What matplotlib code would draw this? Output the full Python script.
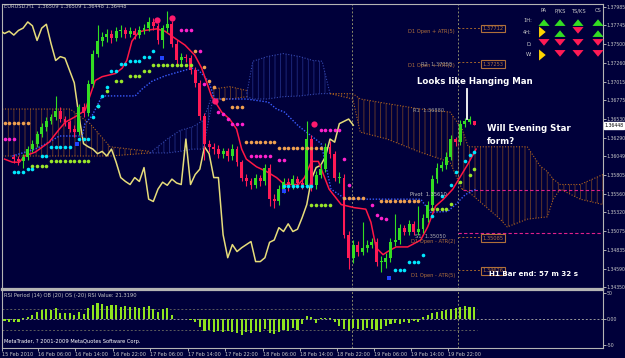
import matplotlib
matplotlib.use("Agg")
import matplotlib.pyplot as plt

W, H = 625, 358
BG = "#00003a"
FG = "#c8c8c8"
NARROW = ["Liberation Sans Narrow", "DejaVu Sans"]

# ---- candles (H1 bars 2..101) ----
bar_idx = list(range(2, 102))
opens = [1.3604, 1.3601, 1.3598, 1.3604, 1.3614, 1.3621, 1.3634, 1.3643, 1.3651, 1.3656,
         1.3664, 1.3653, 1.3649, 1.3640, 1.3636, 1.3669, 1.3661, 1.3699, 1.3738, 1.3754,
         1.3760, 1.3763, 1.3758, 1.3767, 1.3768, 1.3764, 1.3767, 1.3762, 1.3768, 1.3771,
         1.3779, 1.3774, 1.3755, 1.3771, 1.3776, 1.3751, 1.3729, 1.3734, 1.3732, 1.3716,
         1.3700, 1.3657, 1.3621, 1.3617, 1.3614, 1.3608, 1.3611, 1.3605, 1.3614, 1.3597,
         1.3577, 1.3572, 1.3568, 1.3577, 1.3572, 1.3590, 1.3549, 1.3546, 1.3562, 1.3571,
         1.3567, 1.3575, 1.3570, 1.3568, 1.3627, 1.3568, 1.3581, 1.3588, 1.3617, 1.3608,
         1.3577, 1.3577, 1.3503, 1.3473, 1.3490, 1.3481, 1.3486, 1.3490, 1.3494, 1.3468,
         1.3468, 1.3473, 1.3493, 1.3496, 1.3512, 1.3507, 1.3517, 1.3507, 1.3510, 1.3525,
         1.3542, 1.3575, 1.3590, 1.3593, 1.3604, 1.3627, 1.3623, 1.3647, 1.3649, 1.3651]
highs = [1.3608, 1.3605, 1.3608, 1.3618, 1.3626, 1.3638, 1.3648, 1.3655, 1.3660, 1.3683,
         1.3668, 1.3657, 1.3652, 1.3645, 1.3673, 1.3674, 1.3704, 1.3743, 1.3775, 1.3766,
         1.3770, 1.3768, 1.3773, 1.3775, 1.3772, 1.3772, 1.3771, 1.3774, 1.3776, 1.3786,
         1.3784, 1.3778, 1.3775, 1.3793, 1.3780, 1.3755, 1.3739, 1.3738, 1.3736, 1.3720,
         1.3704, 1.3661, 1.3626, 1.3622, 1.3619, 1.3616, 1.3616, 1.3620, 1.3618, 1.3600,
         1.3582, 1.3577, 1.3582, 1.3581, 1.3595, 1.3594, 1.3556, 1.3568, 1.3577, 1.3576,
         1.3580, 1.3579, 1.3575, 1.3650, 1.3632, 1.3586, 1.3594, 1.3622, 1.3624, 1.3612,
         1.3584, 1.3582, 1.3508, 1.3496, 1.3495, 1.3520, 1.3496, 1.3499, 1.3498, 1.3475,
         1.3479, 1.3498, 1.3530, 1.3517, 1.3516, 1.3522, 1.3521, 1.3540, 1.3530, 1.3547,
         1.3580, 1.3596, 1.3598, 1.3610, 1.3632, 1.3630, 1.3652, 1.3654, 1.3657, 1.3651]
lows = [1.3596, 1.3593, 1.3590, 1.3600, 1.3610, 1.3617, 1.3630, 1.3638, 1.3646, 1.3652,
        1.3649, 1.3644, 1.3636, 1.3630, 1.3632, 1.3656, 1.3657, 1.3695, 1.3733, 1.3748,
        1.3753, 1.3752, 1.3754, 1.3760, 1.3758, 1.3760, 1.3757, 1.3758, 1.3763, 1.3767,
        1.3769, 1.3750, 1.3745, 1.3766, 1.3746, 1.3724, 1.3725, 1.3727, 1.3712, 1.3695,
        1.3652, 1.3600, 1.3610, 1.3608, 1.3602, 1.3603, 1.3599, 1.3600, 1.3592, 1.3572,
        1.3566, 1.3562, 1.3563, 1.3566, 1.3568, 1.3540, 1.3538, 1.3541, 1.3557, 1.3560,
        1.3562, 1.3563, 1.3562, 1.3563, 1.3560, 1.3562, 1.3576, 1.3584, 1.3602, 1.3572,
        1.3570, 1.3498, 1.3458, 1.3466, 1.3475, 1.3477, 1.3480, 1.3485, 1.3462, 1.3455,
        1.3460, 1.3468, 1.3488, 1.3491, 1.3502, 1.3502, 1.3502, 1.3503, 1.3505, 1.3520,
        1.3538, 1.3570, 1.3585, 1.3588, 1.3600, 1.3618, 1.3619, 1.3643, 1.3646, 1.3645]
closes = [1.3601, 1.3598, 1.3604, 1.3614, 1.3621, 1.3634, 1.3643, 1.3651, 1.3656, 1.3664,
          1.3653, 1.3649, 1.3640, 1.3636, 1.3669, 1.3661, 1.3699, 1.3738, 1.3754, 1.3760,
          1.3763, 1.3758, 1.3767, 1.3768, 1.3764, 1.3767, 1.3762, 1.3768, 1.3771, 1.3779,
          1.3774, 1.3755, 1.3771, 1.3776, 1.3751, 1.3729, 1.3734, 1.3732, 1.3716, 1.3700,
          1.3657, 1.3621, 1.3617, 1.3614, 1.3608, 1.3611, 1.3605, 1.3614, 1.3597, 1.3577,
          1.3572, 1.3568, 1.3577, 1.3572, 1.3590, 1.3549, 1.3546, 1.3562, 1.3571, 1.3567,
          1.3575, 1.3570, 1.3568, 1.3627, 1.3568, 1.3581, 1.3588, 1.3617, 1.3608, 1.3577,
          1.3577, 1.3503, 1.3473, 1.3490, 1.3481, 1.3486, 1.3490, 1.3494, 1.3468, 1.3468,
          1.3473, 1.3493, 1.3496, 1.3512, 1.3507, 1.3517, 1.3507, 1.3510, 1.3525, 1.3542,
          1.3575, 1.3590, 1.3593, 1.3604, 1.3627, 1.3623, 1.3647, 1.3650, 1.3653, 1.3645]
chikou_shift = 26

# ---- ichimoku lines ----
tenkan_x = [0, 1.7, 3.2, 4.3, 6.6, 9.6, 11.8, 13.1, 15.2, 17.3, 19.5, 21.0, 23.8, 25.3, 26.3,
            27.4, 28.9, 30.2, 32.8, 34.5, 36.6, 38.8, 40.9, 42.4, 44.5, 46.7, 48.4, 49.9, 51.0,
            52.0, 54.2, 56.3, 58.5, 60.2, 63.2, 64.5, 66.0, 67.5, 69.8, 72.4, 75.2, 77.7, 78.8,
            79.9, 81.4, 82.4, 84.2, 86.7, 88.9, 89.5, 91.0, 92.7, 94.4, 96.4, 98.1, 99.6, 101.4]
tenkan_y = [1.3601, 1.3597, 1.3597, 1.3605, 1.3610, 1.3623, 1.3640, 1.3649, 1.3656, 1.3664,
            1.3703, 1.3708, 1.3712, 1.3719, 1.3729, 1.3754, 1.3766, 1.3768, 1.3770, 1.3767,
            1.3758, 1.3749, 1.3736, 1.3719, 1.3683, 1.3662, 1.3653, 1.3640, 1.3614, 1.3601,
            1.3591, 1.3585, 1.3577, 1.3568, 1.3568, 1.3577, 1.3598, 1.3598, 1.3562, 1.3542,
            1.3538, 1.3536, 1.3519, 1.3486, 1.3477, 1.3481, 1.3487, 1.3487, 1.3494, 1.3496,
            1.3513, 1.3540, 1.3549, 1.3562, 1.3579, 1.3594, 1.3614]
kijun_x = [1.7, 6.6, 9.6, 11.8, 16.7, 17.3, 18.8, 21.0, 28.1, 29.6, 31.7, 34.5, 40.3, 41.8,
           43.9, 45.2, 52.0, 56.7, 58.5, 60.2, 63.2, 66.0, 68.1, 70.2, 73.4, 80.9, 89.5, 91.6,
           95.3, 97.0, 99.1, 101.4]
kijun_y = [1.3605, 1.3614, 1.3623, 1.3631, 1.3631, 1.3647, 1.3657, 1.3683, 1.3683, 1.3692,
           1.3702, 1.3709, 1.3719, 1.3716, 1.3702, 1.3679, 1.3679, 1.3675, 1.3666, 1.3662,
           1.3644, 1.3631, 1.3621, 1.3562, 1.3549, 1.3549, 1.3549, 1.3532, 1.3533, 1.3542,
           1.3555, 1.3562]

# ---- cloud pieces: bars, upper edge, lower edge ----
cloud1_x = [-0.5, 14.1, 18.4, 22.7, 31.3]
cloud1_top = [1.3666, 1.3666, 1.3647, 1.3617, 1.3611]
cloud1_bot = [1.3605, 1.3605, 1.3605, 1.3605, 1.3609]
cloud2_x = [31.3, 35.0, 37.7, 40.5, 42.7, 44.8]
cloud2_top = [1.3609, 1.3627, 1.3638, 1.3643, 1.3651, 1.3686]
cloud2_bot = [1.3609, 1.3609, 1.3611, 1.3614, 1.3614, 1.3679]
cloud3_x = [44.8, 48.5, 52.1]
cloud3_top = [1.3692, 1.3695, 1.3690]
cloud3_bot = [1.3679, 1.3679, 1.3682]
cloud4_x = [52.1, 53.4, 56.5, 59.9, 63.5, 66.3, 68.3, 70.0]
cloud4_top = [1.3686, 1.3728, 1.3734, 1.3738, 1.3734, 1.3729, 1.3728, 1.3686]
cloud4_bot = [1.3682, 1.3679, 1.3679, 1.3682, 1.3683, 1.3685, 1.3686, 1.3686]
cloud5_x = [70.0, 74.9, 76.5, 82.3, 89.4, 95.8, 98.4]
cloud5_top = [1.3686, 1.3686, 1.3679, 1.3673, 1.3666, 1.3662, 1.3640]
cloud5_bot = [1.3686, 1.3679, 1.3636, 1.3627, 1.3610, 1.3597, 1.3562]
cloud6_x = [98.4, 99.7, 106.6, 108.1, 112.4, 115.2, 116.7, 118.0, 119.5, 123.8, 128.7]
cloud6_top = [1.3640, 1.3617, 1.3617, 1.3617, 1.3617, 1.3592, 1.3585, 1.3575, 1.3568, 1.3568, 1.3581]
cloud6_bot = [1.3562, 1.3559, 1.3523, 1.3513, 1.3523, 1.3525, 1.3526, 1.3549, 1.3562, 1.3549, 1.3542]

# ---- dot indicators ----
cyan_x = [2, 3, 4, 5, 6, 8, 9, 10, 11, 12, 13, 14, 16, 17, 18, 19, 20, 21, 22, 23, 24, 25, 26,
          27, 28, 29, 30, 31, 32, 60, 61, 62, 63, 64, 65, 66, 84, 85, 86, 87, 88, 89, 90, 92,
          94, 96, 97, 99, 100, 101]
cyan_y = [1.3584, 1.3584, 1.3584, 1.3588, 1.3588, 1.3605, 1.3605, 1.3617, 1.3617, 1.3617,
          1.3617, 1.3617, 1.3627, 1.3627, 1.3627, 1.3656, 1.3670, 1.3683, 1.3695, 1.3715,
          1.3715, 1.3724, 1.3724, 1.3728, 1.3728, 1.3728, 1.3734, 1.3734, 1.3741, 1.3566,
          1.3566, 1.3566, 1.3566, 1.3566, 1.3566, 1.3566, 1.3457, 1.3457, 1.3457, 1.3468,
          1.3468, 1.3468, 1.3477, 1.3527, 1.3553, 1.3568, 1.3584, 1.3598, 1.3606, 1.3610]
lime_x = [6, 7, 8, 9, 10, 11, 12, 13, 14, 15, 16, 17, 18, 20, 22, 24, 25, 27, 28, 29, 30, 31,
          32, 33, 34, 35, 36, 37, 38, 39, 40, 66, 67, 68, 69, 70, 92, 93, 94, 95, 96, 98, 100, 101]
lime_y = [1.3592, 1.3592, 1.3592, 1.3592, 1.3598, 1.3598, 1.3598, 1.3598, 1.3598, 1.3598,
          1.3598, 1.3598, 1.3598, 1.3670, 1.3690, 1.3702, 1.3702, 1.3709, 1.3709, 1.3709,
          1.3715, 1.3715, 1.3723, 1.3723, 1.3723, 1.3723, 1.3723, 1.3723, 1.3723, 1.3723,
          1.3723, 1.3541, 1.3541, 1.3541, 1.3541, 1.3541, 1.3536, 1.3536, 1.3536, 1.3536,
          1.3543, 1.3571, 1.3580, 1.3588]
orange_x = [0, 1, 2, 3, 4, 5, 41, 43, 44, 45, 47, 49, 50, 51, 52, 53, 54, 55, 56, 57, 58, 59,
            60, 61, 62, 63, 64, 65, 66, 67, 68, 73, 74, 75, 76, 77, 81, 82, 83, 84, 85, 86, 87,
            88, 89]
orange_y = [1.3648, 1.3648, 1.3648, 1.3648, 1.3648, 1.3648, 1.3741, 1.3721, 1.3702, 1.3694,
            1.3679, 1.3668, 1.3668, 1.3668, 1.3623, 1.3623, 1.3623, 1.3623, 1.3623, 1.3623,
            1.3623, 1.3615, 1.3615, 1.3615, 1.3615, 1.3615, 1.3615, 1.3615, 1.3615, 1.3615,
            1.3615, 1.3551, 1.3551, 1.3551, 1.3551, 1.3551, 1.3546, 1.3546, 1.3546, 1.3546,
            1.3546, 1.3546, 1.3546, 1.3546, 1.3546]
magenta_x = [0, 1, 2, 38, 39, 40, 42, 43, 45, 46, 47, 48, 49, 50, 51, 53, 54, 55, 56, 57, 59,
             60, 68, 69, 70, 71, 72, 73, 74, 79, 80, 81, 82]
magenta_y = [1.3627, 1.3627, 1.3627, 1.3768, 1.3768, 1.3768, 1.3741, 1.3699, 1.3677, 1.3662,
             1.3660, 1.3653, 1.3647, 1.3647, 1.3647, 1.3605, 1.3605, 1.3605, 1.3605, 1.3605,
             1.3600, 1.3600, 1.3639, 1.3639, 1.3639, 1.3639, 1.3639, 1.3601, 1.3568, 1.3542,
             1.3529, 1.3525, 1.3523]
fractal_x = [32.8, 36.0, 45.2, 66.6]
fractal_y = [1.3781, 1.3784, 1.3676, 1.3647]
square_x = [15.6, 33.8, 60.0, 82.7]
square_y = [1.3621, 1.3732, 1.3559, 1.3447]

# ---- RSI histogram (bars 0..101) ----
rsi = [-4, -5, -6, -5, 3, 5, 8, 14, 17, 19, 17, 22, 12, 13, 12, 8, 14, 10, 22, 28,
       31, 29, 26, 28, 27, 24, 26, 24, 24, 21, 23, 26, 20, 14, 20, 22, 8, 1, 0, 0,
       -2, -6, -14, -22, -20, -24, -22, -25, -22, -25, -27, -30, -24, -26, -22, -24, -18, -27, -28, -24,
       -20, -22, -16, -20, -10, 6, 4, -8, 2, 3, 2, -6, -12, -18, -22, -16, -18, -20, -16, -18,
       -20, -19, -12, -10, -8, -10, -6, -8, -4, -6, 4, 8, 12, 14, 16, 17, 20, 22, 24, 25,
       24, 23]

price_ticks = [1.37985, 1.37745, 1.37500, 1.37260, 1.37015, 1.36775, 1.36530, 1.36290,
               1.36049, 1.35805, 1.35560, 1.35320, 1.35075, 1.34835, 1.34590, 1.34350]
time_ticks = [-0.5, 7.1, 15.2, 23.3, 31.3, 39.4, 47.4, 55.5, 63.5, 71.5, 79.5, 87.4, 95.4]
time_labels = ["15 Feb 2010", "16 Feb 06:00", "16 Feb 14:00", "16 Feb 22:00", "17 Feb 06:00",
               "17 Feb 14:00", "17 Feb 22:00", "18 Feb 06:00", "18 Feb 14:00", "18 Feb 22:00",
               "19 Feb 06:00", "19 Feb 14:00", "19 Feb 22:00"]
day_breaks = [74.7, 97.5]

# ---- trend table ----
tbl_cols = ["PA", "P/KS", "TS/KS", "CS"]
tbl_rows = ["1H:", "4H:", "D:", "W:"]
tbl_dirs = [["up", "up", "up", "up"],
            ["right", "up", "down", "up"],
            ["down", "down", "down", "down"],
            ["right", "down", "down", "down"]]


def fx(x):
    return x / W


def fy(y):
    return 1 - y / H


fig = plt.figure(figsize=(W / 100, H / 100), dpi=100, facecolor=BG)
ax = fig.add_axes([fx(2), fy(289), fx(603) - fx(2), fy(4) - fy(289)], facecolor=BG)
ax2 = fig.add_axes([fx(2), fy(348), fx(603) - fx(2), fy(290) - fy(348)], facecolor=BG)
XL = (-0.54, 128.7)

# cloud
plt.rcParams["hatch.linewidth"] = 0.6
for cx, ct, cb, col in [(cloud1_x, cloud1_top, cloud1_bot, "#b0641e"),
                        (cloud2_x, cloud2_top, cloud2_bot, "#3548b0"),
                        (cloud3_x, cloud3_top, cloud3_bot, "#b0641e"),
                        (cloud4_x, cloud4_top, cloud4_bot, "#3548b0"),
                        (cloud5_x, cloud5_top, cloud5_bot, "#b0641e"),
                        (cloud6_x, cloud6_top, cloud6_bot, "#b0641e")]:
    ax.fill_between(cx, cb, ct, facecolor="none", edgecolor=col, hatch="|||",
                    linewidth=0, alpha=0.6, zorder=1)
    ax.plot(cx, ct, color=col, lw=0.8, ls=(0, (1, 1.5)), zorder=1)
    ax.plot(cx, cb, color=col, lw=0.8, ls=(0, (1, 1.5)), zorder=1)

for d in day_breaks:
    ax.axvline(d, color="#8a8a6a", lw=0.7, ls=(0, (2, 2)), zorder=1)
    ax2.axvline(d, color="#8a8a6a", lw=0.7, ls=(0, (2, 2)), zorder=1)

# horizontal levels (pivot / S1 / D1 open +- ATR)
ax.plot([98.6, 128.7], [1.35610, 1.35610], color="#e0208a", lw=0.8, ls=(0, (3, 2)), zorder=2)
ax.plot([97.5, 128.7], [1.35050, 1.35050], color="#e0208a", lw=0.8, ls=(0, (3, 2)), zorder=2)
for lvl in [1.37712, 1.37271, 1.35005, 1.34570]:
    ax.plot([97.5, 103.0], [lvl, lvl], color="#a0642a", lw=0.7, ls=(0, (2, 2)), zorder=2)

# chikou, tenkan, kijun
ax.plot([b - chikou_shift for b in bar_idx], closes, color="#e6dc7a", lw=1.1, zorder=3)
ax.plot(kijun_x, kijun_y, color="#3a5cff", lw=1.0, ls=(0, (1, 1.2)), zorder=3)
ax.plot(tenkan_x, tenkan_y, color="#ff1744", lw=1.1, zorder=4)

# candles
for b, o, h, l, c in zip(bar_idx, opens, highs, lows, closes):
    col = "#33dd22" if c >= o else "#ff1a55"
    ax.vlines(b, l, h, color=col, lw=0.8, zorder=5)
    ax.bar(b, max(abs(c - o), 0.00004), bottom=min(o, c), width=0.62, color=col,
           linewidth=0, zorder=5)

# dots
ax.plot(orange_x, orange_y, "o", color="#f0a050", ms=2.6, mew=0, zorder=6)
ax.plot(magenta_x, magenta_y, "o", color="#ff22cc", ms=2.6, mew=0, zorder=6)
ax.plot(lime_x, lime_y, "o", color="#9ae62a", ms=2.6, mew=0, zorder=6)
ax.plot(cyan_x, cyan_y, "o", color="#00e8ff", ms=2.6, mew=0, zorder=6)
ax.plot(fractal_x, fractal_y, "o", color="#ff1a6e", ms=4.5, mew=0, zorder=6)
ax.plot(square_x, square_y, "s", color="#2244ff", ms=3.2, mew=0, zorder=6)

# hanging man marker line
ax.plot([99.5, 99.5], [1.36925, 1.36533], color="white", lw=1.3, zorder=7)

ax.set_xlim(*XL)
ax.set_ylim(1.34324, 1.38023)
ax.yaxis.tick_right()
ax.set_yticks(price_ticks)
ax.set_yticklabels([f"{p:.5f}" for p in price_ticks])
ax.tick_params(axis="y", colors=FG, labelsize=3.3, length=2, width=0.6, pad=0.4)
for lab in ax.get_yticklabels():
    lab.set_family(NARROW)
ax.set_xticks([])
for s in ax.spines.values():
    s.set_color("#b4b4b4")
    s.set_linewidth(0.8)
ax.spines["bottom"].set_linewidth(1.6)
ax.text(1.002, 1.36448, "1.36448", transform=ax.get_yaxis_transform(), fontsize=3.3,
        family=NARROW, color="black", va="center", ha="left",
        bbox=dict(boxstyle="square,pad=0.15", fc="white", ec="white"), zorder=10,
        clip_on=False)

# RSI panel
ax2.bar(range(len(rsi)), rsi, width=0.45, color="#8fe31e", zorder=3)
ax2.plot([-0.54, 101.5], [20, 20], color="#5c5c5c", lw=0.7, ls=(0, (2, 2)))
ax2.plot([-0.54, 101.5], [-20, -20], color="#5c5c5c", lw=0.7, ls=(0, (2, 2)))
ax2.axhline(0, color="#9a9a9a", lw=0.7, ls=(0, (2, 2)), zorder=2)
ax2.set_xlim(*XL)
ax2.set_ylim(-55.2, 56.3)
ax2.yaxis.tick_right()
ax2.set_yticks([50, 0, -50])
ax2.set_yticklabels(["50", "0.00", "-50"])
ax2.tick_params(axis="y", colors=FG, labelsize=3.4, length=2, width=0.6, pad=0.6)
ax2.set_xticks(time_ticks)
ax2.set_xticklabels(time_labels)
ax2.tick_params(axis="x", colors=FG, labelsize=3.6, length=2, width=0.6, pad=0.8)
for lab in ax2.get_xticklabels() + ax2.get_yticklabels():
    lab.set_family(NARROW)
for lab in ax2.get_xticklabels():
    lab.set_ha("left")
for s in ax2.spines.values():
    s.set_color("#b4b4b4")
    s.set_linewidth(0.8)
ax2.spines["top"].set_linewidth(1.6)

# text overlays (pixel positions)
small = dict(fontsize=3.7, va="center", family=NARROW)
fig.text(fx(4), fy(6), "EURUSD,H1  1.36509 1.36509 1.36448 1.36448", color=FG, **small)
fig.text(fx(4), fy(296), "RSI Period (14) OB (20) OS (-20) RSI Value: 21.3190", color=FG, **small)
fig.text(fx(4), fy(342), "MetaTrader, ? 2001-2009 MetaQuotes Software Corp.", color="white", **small)

brown = "#b0703a"
fig.text(fx(455), fy(32), "D1 Open + ATR(5)", color=brown, ha="right", **small)
fig.text(fx(455), fy(66), "D1 Open + ATR(2)", color=brown, ha="right", **small)
fig.text(fx(452), fy(65), "R2  1.37258", color="#9a9a9a", ha="right", **small)
fig.text(fx(455), fy(241), "D1 Open - ATR(2)", color=brown, ha="right", **small)
fig.text(fx(446), fy(236), "S1  1.35050", color="#b0b0b0", ha="right", **small)
fig.text(fx(455), fy(275), "D1 Open - ATR(5)", color=brown, ha="right", **small)
fig.text(fx(413), fy(110), "R1  1.36880", color="#9a9a9a", **small)
fig.text(fx(410), fy(194), "Pivot  1.35610", color="#c8c8c8", **small)
for y, s in [(28.5, "1.37712"), (64, "1.37253"), (238, "1.35085"), (271, "1.34626")]:
    fig.text(fx(493), fy(y), s, color=brown, ha="center", **small,
             bbox=dict(boxstyle="square,pad=0.2", fc=BG, ec=brown, lw=0.8))

big = dict(color="white", fontsize=6.2, fontweight="bold", va="center")
fig.text(fx(417), fy(81), "Looks like Hanging Man", **big)
fig.text(fx(487), fy(128), "Will Evening Star", **big)
fig.text(fx(487), fy(142), "form?", **big)
fig.text(fx(578), fy(274), "H1 Bar end: 57 m 32 s", ha="right", color="white", fontsize=5.1,
         fontweight="bold", va="center", family=NARROW)

# trend arrows table
col_px = [544, 560, 578, 598]
row_py = [21, 32, 44, 55]
for cx, name in zip(col_px, tbl_cols):
    fig.text(fx(cx), fy(11), name, color=FG, ha="center", **small)
for ry, name in zip(row_py, tbl_rows):
    fig.text(fx(532), fy(ry), name, color=FG, ha="right", **small)
arrow_col = {"up": "#33dd22", "down": "#ff1a55", "right": "#ffd400"}
for ry, row in zip(row_py, tbl_dirs):
    for cx, d in zip(col_px, row):
        if d == "up":
            tail, head = (cx, ry + 4.5), (cx, ry - 4.5)
        elif d == "down":
            tail, head = (cx, ry - 4.5), (cx, ry + 4.5)
        else:
            tail, head = (cx - 4.5, ry), (cx + 4.5, ry)
        fig.add_artist(matplotlib.patches.FancyArrowPatch(
            (fx(tail[0]), fy(tail[1])), (fx(head[0]), fy(head[1])),
            transform=fig.transFigure,
            arrowstyle="simple,head_width=1.0,head_length=0.6,tail_width=0.5",
            mutation_scale=8, color=arrow_col[d], lw=0))

fig.savefig("out.png", dpi=100, facecolor=BG)
